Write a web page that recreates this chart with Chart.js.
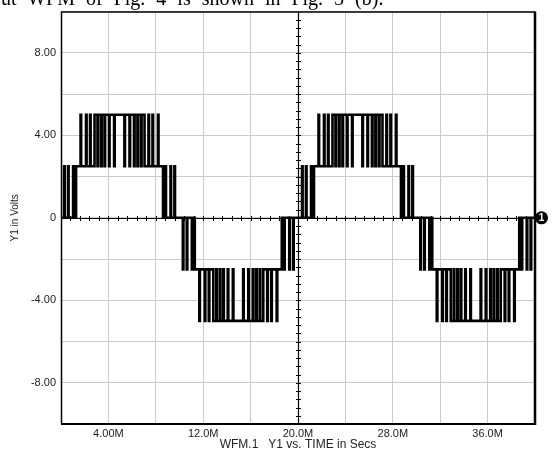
<!DOCTYPE html>
<html>
<head>
<meta charset="utf-8">
<script src="https://cdn.jsdelivr.net/npm/chart.js@4.4.1/dist/chart.umd.min.js"></script>
<style>
  html, body { margin: 0; padding: 0; background: #fff; }
  #wrap { position: relative; width: 552px; height: 456px; overflow: hidden; background: #fff; }
  #c { position: absolute; left: 0; top: 0; }
  #caption {
    position: absolute; left: 1px; top: -12px;
    font: 20px "Liberation Serif", "Times New Roman", serif;
    line-height: 20px; word-spacing: 6px; color: #000; white-space: nowrap;
  }
</style>
</head>
<body>
<div id="wrap">
  <canvas id="c" width="552" height="456"></canvas>
  <div id="caption">ut WFM of Fig. 4 is shown in Fig. 5 (b).</div>
</div>
<script>
// Switching instants (in M time units) for each half cycle of the multilevel PWM output
const posHalf1Times = [0.26,0.31,0.59,0.64,1.02,1.07,1.27,1.65,1.70,2.11,2.16,2.45,2.50,2.83,3.08,3.13,3.38,3.43,3.67,3.72,4.05,4.10,4.48,4.53,
                       5.35,5.40,5.78,5.83,6.16,6.21,6.45,6.50,6.75,6.80,7.05,7.38,7.43,7.72,7.77,8.18,8.23,8.61,8.81,8.86,9.24,9.29,9.57,9.62];
const negHalf1Times = [10.28,10.33,10.61,10.66,11.04,11.09,11.29,11.67,11.72,12.13,12.18,12.47,12.52,12.85,13.10,13.15,13.40,13.45,13.69,13.74,14.07,14.12,14.50,14.55,
                       15.37,15.42,15.80,15.85,16.18,16.23,16.47,16.52,16.77,16.82,17.07,17.40,17.45,17.74,17.79,18.20,18.25,18.63,18.83,18.88,19.26,19.31,19.59,19.64];
const posHalf2Times = [20.34,20.39,20.67,20.72,21.10,21.15,21.35,21.73,21.78,22.19,22.24,22.53,22.58,22.91,23.16,23.21,23.46,23.51,23.75,23.80,24.13,24.18,24.56,24.61,
                       25.43,25.48,25.86,25.91,26.24,26.29,26.53,26.58,26.83,26.88,27.13,27.46,27.51,27.80,27.85,28.26,28.31,28.69,28.89,28.94,29.32,29.37,29.65,29.70];
const negHalf2Times = [30.32,30.37,30.65,30.70,31.08,31.13,31.33,31.71,31.76,32.17,32.22,32.51,32.56,32.89,33.14,33.19,33.44,33.49,33.73,33.78,34.11,34.16,34.54,34.59,
                       35.41,35.46,35.84,35.89,36.22,36.27,36.51,36.56,36.81,36.86,37.11,37.44,37.49,37.78,37.83,38.24,38.29,38.67,38.87,38.92,39.30,39.35,39.63,39.68];

// Output voltage (V) taken after each switching instant
const posLevels = [2.5,0,2.5,0,2.5,0,2.5,5,2.5,5,2.5,5,2.5,5,2.5,5,2.5,5,2.5,5,2.5,5,2.5,5,
                   2.5,5,2.5,5,2.5,5,2.5,5,2.5,5,2.5,5,2.5,5,2.5,5,2.5,0,2.5,0,2.5,0,2.5,0];
const negLevels = [-2.5,0,-2.5,0,-2.5,0,-2.5,-5,-2.5,-5,-2.5,-5,-2.5,-5,-2.5,-5,-2.5,-5,-2.5,-5,-2.5,-5,-2.5,-5,
                   -2.5,-5,-2.5,-5,-2.5,-5,-2.5,-5,-2.5,-5,-2.5,-5,-2.5,-5,-2.5,-5,-2.5,0,-2.5,0,-2.5,0,-2.5,0];

const startPoint = { x: 0, y: 0 };
const endPoint = { x: 40, y: 0 };

// Axis tick labels
const xTickValues = [4, 12, 20, 28, 36];
const xTickLabels = ['4.00M', '12.0M', '20.0M', '28.0M', '36.0M'];
const yTickValues = [8, 4, 0, -4, -8];
const yTickLabels = ['8.00', '4.00', '0', '-4.00', '-8.00'];

const xTitle = 'WFM.1   Y1 vs. TIME in Secs';
const yTitle = 'Y1 in Volts';

function zipSteps(times, levels) {
  return times.map((t, i) => ({ x: t, y: levels[i] }));
}

const wavePoints = [startPoint]
  .concat(zipSteps(posHalf1Times, posLevels))
  .concat(zipSteps(negHalf1Times, negLevels))
  .concat(zipSteps(posHalf2Times, posLevels))
  .concat(zipSteps(negHalf2Times, negLevels))
  .concat([endPoint]);

// Centre cross-hair axes with minor ticks, heavy frame and the trace marker
const scopeDecor = {
  id: 'scopeDecor',
  beforeDatasetsDraw(chart) {
    const { ctx, chartArea: a, scales: { x, y } } = chart;
    const y0 = Math.round(y.getPixelForValue(0)) + 0.5;
    const x0 = Math.round(x.getPixelForValue(20)) + 0.5;
    ctx.save();
    ctx.strokeStyle = '#000';
    ctx.lineWidth = 1.2;
    ctx.beginPath();
    ctx.moveTo(a.left, y0); ctx.lineTo(a.right, y0);
    ctx.moveTo(x0, a.top); ctx.lineTo(x0, a.bottom);
    ctx.stroke();
    ctx.lineWidth = 1;
    ctx.beginPath();
    for (let i = 1; i < 50; i++) {
      const px = Math.round(x.getPixelForValue(i * 0.8)) + 0.5;
      ctx.moveTo(px, y0 - 2.5); ctx.lineTo(px, y0 + 2.5);
    }
    for (let i = 1; i < 50; i++) {
      const py = Math.round(y.getPixelForValue(-10 + i * 0.4)) + 0.5;
      ctx.moveTo(x0 - 2.5, py); ctx.lineTo(x0 + 2.5, py);
    }
    ctx.stroke();
    ctx.restore();
  },
  afterDatasetsDraw(chart) {
    const { ctx, chartArea: a, scales: { y } } = chart;
    ctx.save();
    ctx.strokeStyle = '#000';
    ctx.lineWidth = 1.5;
    ctx.beginPath();
    ctx.moveTo(a.left, a.top + 0.5); ctx.lineTo(a.right, a.top + 0.5);
    ctx.moveTo(a.left + 0.5, a.top); ctx.lineTo(a.left + 0.5, a.bottom);
    ctx.stroke();
    ctx.lineWidth = 2;
    ctx.beginPath();
    ctx.moveTo(a.left, a.bottom); ctx.lineTo(a.right + 1, a.bottom);
    ctx.stroke();
    ctx.lineWidth = 2.5;
    ctx.beginPath();
    ctx.moveTo(a.right, a.top); ctx.lineTo(a.right, a.bottom + 1);
    ctx.stroke();
    // trace marker
    const my = y.getPixelForValue(0);
    const mx = a.right + 6.5;
    ctx.fillStyle = '#000';
    ctx.beginPath();
    ctx.arc(mx, my, 6.5, 0, Math.PI * 2);
    ctx.fill();
    ctx.fillStyle = '#fff';
    ctx.font = 'bold 10px "Liberation Sans", Arial, sans-serif';
    ctx.textAlign = 'center';
    ctx.textBaseline = 'middle';
    ctx.fillText('1', mx, my + 0.5);
    ctx.restore();
  }
};

new Chart(document.getElementById('c'), {
  type: 'line',
  data: {
    datasets: [{
      data: wavePoints,
      stepped: true,
      borderColor: '#000',
      borderWidth: 2.6,
      pointRadius: 0,
      fill: false,
      tension: 0
    }]
  },
  options: {
    responsive: false,
    animation: false,
    devicePixelRatio: 1,
    layout: { padding: { top: 8, right: 17, bottom: 0, left: 0 } },
    plugins: { legend: { display: false }, tooltip: { enabled: false } },
    scales: {
      x: {
        type: 'linear',
        min: 0, max: 40,
        afterFit(s) { s.height = 32; },
        grid: { color: '#c8cdc8', lineWidth: 1, drawTicks: false },
        border: { display: false },
        ticks: {
          stepSize: 4, autoSkip: false, maxRotation: 0, padding: 3,
          color: '#222', font: { family: '"Liberation Sans", Arial, sans-serif', size: 11 },
          callback(v) { const i = xTickValues.indexOf(v); return i >= 0 ? xTickLabels[i] : ''; }
        },
        title: {
          display: true, text: xTitle, color: '#222',
          font: { family: '"Liberation Sans", Arial, sans-serif', size: 12 },
          padding: { top: 0, bottom: 4 }
        }
      },
      y: {
        type: 'linear',
        min: -10, max: 10,
        afterFit(s) { s.width = 61; },
        grid: { color: '#c8cdc8', lineWidth: 1, drawTicks: false },
        border: { display: false },
        ticks: {
          stepSize: 2, autoSkip: false, padding: 5,
          color: '#222', font: { family: '"Liberation Sans", Arial, sans-serif', size: 11 },
          callback(v) { const i = yTickValues.indexOf(v); return i >= 0 ? yTickLabels[i] : ''; }
        },
        title: {
          display: true, text: yTitle, color: '#222',
          font: { family: '"Liberation Sans", Arial, sans-serif', size: 10 },
          padding: { top: 9, bottom: 0 }
        }
      }
    }
  },
  plugins: [scopeDecor]
});
</script>
</body>
</html>
